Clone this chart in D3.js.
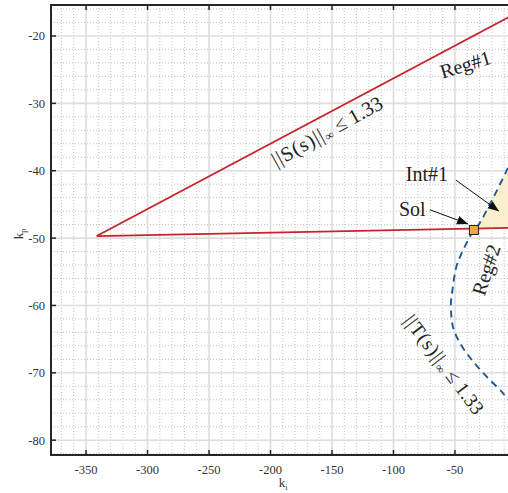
<!DOCTYPE html>
<html>
<head>
<meta charset="utf-8">
<script src="https://cdn.jsdelivr.net/npm/d3@7.9.0/dist/d3.min.js"></script>
<style>
  body { margin: 0; background: #fff; }
  svg { display: block; font-family: 'Liberation Serif', 'DejaVu Serif', serif; }
</style>
</head>
<body>
<svg width="508" height="493"></svg>
<script>
// axis ticks
const xTicks = [-350, -300, -250, -200, -150, -100, -50];
const yTicks = [-20, -30, -40, -50, -60, -70, -80];

// ||S(s)|| <= 1.33 boundary (two red rays from a common vertex)
const sVertex = [-341.3, -49.7];
const sUpperEnd = [0, -16.6];
const sLowerEnd = [0, -48.45];

// ||T(s)|| <= 1.33 boundary (blue dashed curve)
const tKi = [-6.9, -20.0, -32.1, -34.6, -45.9, -49.2, -52.4, -53.3, -51.6, -45.9, -36.2, -24.0, -11.0, -4.0];
const tKp = [-39.6, -44.4, -48.4, -48.8, -52.8, -54.5, -58.2, -59.7, -63.2, -65.6, -68.1, -70.6, -73.0, -74.5];

// chosen solution
const sol = [-34.6, -48.8];

const svg = d3.select('svg');
const x = d3.scaleLinear().domain([-378.5, -2.8]).range([51, 513]);
const y = d3.scaleLinear().domain([-15.4, -82.2]).range([5, 455]);
const [x0, x1] = x.range();
const [y0, y1] = y.range();

const defs = svg.append('defs');
defs.append('clipPath').attr('id', 'clip')
  .append('rect').attr('x', x0).attr('y', y0).attr('width', x1 - x0).attr('height', y1 - y0);
defs.append('marker')
  .attr('id', 'arrow').attr('viewBox', '0 0 10 10').attr('refX', 10).attr('refY', 5)
  .attr('markerWidth', 11).attr('markerHeight', 11).attr('markerUnits', 'userSpaceOnUse')
  .attr('orient', 'auto')
  .append('path').attr('d', 'M0,1 L10,5 L0,9 Z').attr('fill', '#111');

const plot = svg.append('g').attr('clip-path', 'url(#clip)');

// minor grid (dotted)
const xMinor = d3.range(-380, 0, 10).filter(v => !xTicks.includes(v));
const yMinor = d3.range(-16, -83, -2).filter(v => !yTicks.includes(v));
plot.selectAll('.xminor').data(xMinor).join('line')
  .attr('x1', d => x(d)).attr('x2', d => x(d)).attr('y1', y0).attr('y2', y1)
  .attr('stroke', '#bbbbbb').attr('stroke-width', 0.9).attr('stroke-dasharray', '1,2');
plot.selectAll('.yminor').data(yMinor).join('line')
  .attr('y1', d => y(d)).attr('y2', d => y(d)).attr('x1', x0).attr('x2', x1)
  .attr('stroke', '#bbbbbb').attr('stroke-width', 0.9).attr('stroke-dasharray', '1,2');

// major grid
plot.selectAll('.xmajor').data(xTicks).join('line')
  .attr('x1', d => x(d)).attr('x2', d => x(d)).attr('y1', y0).attr('y2', y1)
  .attr('stroke', '#dedede').attr('stroke-width', 1.6);
plot.selectAll('.ymajor').data(yTicks).join('line')
  .attr('y1', d => y(d)).attr('y2', d => y(d)).attr('x1', x0).attr('x2', x1)
  .attr('stroke', '#dedede').attr('stroke-width', 1.6);

// intersection region Int#1
const tPts = tKi.map((k, i) => [k, tKp[i]]);
const line = d3.line().x(d => x(d[0])).y(d => y(d[1]));
const smooth = d3.line().x(d => x(d[0])).y(d => y(d[1])).curve(d3.curveCatmullRom);
const solIdx = tKi.indexOf(sol[0]);
const upperArc = tPts.slice(0, solIdx + 1);
plot.append('path')
  .attr('d', smooth(upperArc) + `L${x(sLowerEnd[0])},${y(sLowerEnd[1])}L${x(0)},${y(tKp[0])}Z`)
  .attr('fill', '#fcefcd').attr('stroke', 'none');

// S boundary
plot.append('path')
  .attr('d', line([sUpperEnd, sVertex, sLowerEnd]))
  .attr('fill', 'none').attr('stroke', '#c8232c').attr('stroke-width', 1.8)
  .attr('stroke-linejoin', 'miter');

// T boundary
plot.append('path')
  .attr('d', smooth(tPts))
  .attr('fill', 'none').attr('stroke', '#1f5a94').attr('stroke-width', 1.9)
  .attr('stroke-dasharray', '7,5');

// solution marker
plot.append('rect')
  .attr('x', x(sol[0]) - 4.5).attr('y', y(sol[1]) - 4.5).attr('width', 9).attr('height', 9)
  .attr('fill', '#f6a541').attr('stroke', '#222').attr('stroke-width', 1);

// axes box + ticks
const axisColor = '#262626';
svg.append('path')
  .attr('d', `M${x1},${y0}H${x0}V${y1}H${x1}`)
  .attr('fill', 'none').attr('stroke', axisColor).attr('stroke-width', 2);
xTicks.forEach(v => {
  svg.append('line').attr('x1', x(v)).attr('x2', x(v)).attr('y1', y1).attr('y2', y1 - 5)
    .attr('stroke', axisColor).attr('stroke-width', 1.5);
  svg.append('line').attr('x1', x(v)).attr('x2', x(v)).attr('y1', y0).attr('y2', y0 + 5)
    .attr('stroke', axisColor).attr('stroke-width', 1.5);
  svg.append('text').attr('x', x(v)).attr('y', y1 + 19).attr('text-anchor', 'middle')
    .attr('font-size', 12.5).attr('fill', '#333').text(v);
});
yTicks.forEach(v => {
  svg.append('line').attr('x1', x0).attr('x2', x0 + 5).attr('y1', y(v)).attr('y2', y(v))
    .attr('stroke', axisColor).attr('stroke-width', 1.5);
  svg.append('line').attr('x1', x1).attr('x2', x1 - 5).attr('y1', y(v)).attr('y2', y(v))
    .attr('stroke', axisColor).attr('stroke-width', 1.5);
  svg.append('text').attr('x', x0 - 6).attr('y', y(v) + 4.5).attr('text-anchor', 'end')
    .attr('font-size', 12.5).attr('fill', '#333').text(v);
});

// axis labels
const xl = svg.append('text').attr('x', 283).attr('y', 487).attr('text-anchor', 'middle')
  .attr('font-size', 13).attr('fill', '#333');
xl.append('tspan').text('k');
xl.append('tspan').attr('font-size', 8).attr('dy', 3).text('i');
const yl = svg.append('text').attr('transform', 'translate(23,234) rotate(-90)')
  .attr('text-anchor', 'middle').attr('font-size', 13).attr('fill', '#333');
yl.append('tspan').text('k');
yl.append('tspan').attr('font-size', 8).attr('dy', 3).text('p');

// annotations
function label(pos, angle, size, parts) {
  const t = svg.append('text')
    .attr('transform', `translate(${x(pos[0])},${y(pos[1])}) rotate(${angle})`)
    .attr('text-anchor', 'middle').attr('dominant-baseline', 'middle')
    .attr('font-size', size).attr('fill', '#222');
  parts.forEach(p => {
    const s = t.append('tspan').text(p.t);
    if (p.sub) s.attr('font-size', size * 0.6).attr('baseline-shift', '-35%');
    if (p.ls) s.attr('letter-spacing', p.ls);
  });
  return t;
}
label([-153.3, -34.4], -29, 20.5, [{t: '||S(s)||', ls: 1}, {t: '\u221e', sub: true}, {t: ' \u2264 1.33'}]);
label([-60.5, -69.0], 53, 19.5, [{t: '||T(s)||', ls: 1}, {t: '\u221e', sub: true}, {t: ' \u2264 1.33'}]);
label([-41.1, -24.5], -17, 20, [{t: 'Reg#1'}]);
label([-23.2, -54.8], -72, 20, [{t: 'Reg#2'}]);

svg.append('text').attr('x', x(-90)).attr('y', y(-41.5)).attr('font-size', 20).attr('fill', '#222').text('Int#1');
svg.append('text').attr('x', x(-95.5)).attr('y', y(-46.7)).attr('font-size', 20).attr('fill', '#222').text('Sol');

const arrows = [
  [[-49.2, -41.4], [-14.2, -46.0]],
  [[-70.3, -45.8], [-39.4, -47.9]]
];
arrows.forEach(a => {
  svg.append('path').attr('d', line(a))
    .attr('stroke', '#111').attr('stroke-width', 1).attr('fill', 'none')
    .attr('marker-end', 'url(#arrow)');
});
</script>
</body>
</html>
